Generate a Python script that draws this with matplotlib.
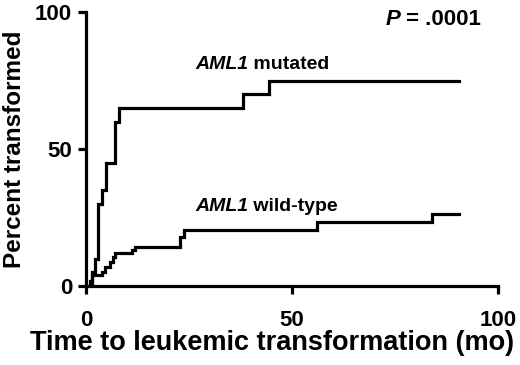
import matplotlib
matplotlib.use("Agg")
import matplotlib.pyplot as plt

plt.rcParams['font.family'] = ['Liberation Sans', 'DejaVu Sans']
plt.rcParams['font.weight'] = 'bold'

# AML1 mutated: event times (mo) and cumulative percent transformed
mut_t = [0, 1.5, 2.2, 3.0, 3.8, 4.9, 7.0, 8.1, 38.0, 44.4, 90.5]
mut_y = [0, 5, 10, 30, 35, 45, 60, 65, 70, 75, 75]

# AML1 wild-type
wt_t = [0, 1.0, 1.4, 3.8, 4.6, 5.8, 6.6, 7.1, 11.1, 11.9, 22.9, 23.7, 56.1, 84.1, 90.5]
wt_y = [0, 2, 4, 5.2, 7, 8.9, 10.7, 11.9, 13.1, 14.3, 18, 20.4, 23.5, 26.2, 26.2]

xticks = [0, 50, 100]
yticks = [0, 50, 100]

fig = plt.figure(figsize=(5.2, 3.65), dpi=100)
ax = fig.add_axes([0.1654, 0.2164, 0.7923, 0.7507])

ax.step(mut_t, mut_y, where='post', color='black', lw=2.3, solid_joinstyle='miter')
ax.step(wt_t, wt_y, where='post', color='black', lw=2.3, solid_joinstyle='miter')

ax.set_xlim(0, 100)
ax.set_ylim(0, 100)
ax.set_xticks(xticks)
ax.set_yticks(yticks)
for s in ['top', 'right']:
    ax.spines[s].set_visible(False)
for s in ['left', 'bottom']:
    ax.spines[s].set_linewidth(2.3)
ax.tick_params(direction='out', length=6, width=2.3, labelsize=16)
ax.tick_params(axis='x', pad=11)
ax.tick_params(axis='y', pad=4)
for lab in ax.get_xticklabels() + ax.get_yticklabels():
    lab.set_fontweight('bold')

ax.set_xlabel('Time to leukemic transformation (mo)', fontsize=19.5, fontweight='bold',
              va='baseline')
ax.xaxis.set_label_coords(0.451, -0.2336)
ax.set_ylabel('Percent transformed', fontsize=17.5, fontweight='bold')
ax.yaxis.set_label_coords(-0.145, 0.5)


def label(x, y, italic, rest, size):
    t1 = ax.text(x, y, italic, fontsize=size, fontweight='bold', fontstyle='italic',
                 ha='left', va='center')
    ax.annotate(rest, xy=(1, 0.5), xycoords=t1, fontsize=size, fontweight='bold',
                ha='left', va='center')


label(26.5, 81.0, 'AML1', ' mutated', 14)
label(26.5, 29.0, 'AML1', ' wild-type', 14)
label(72.6, 97.4, 'P', ' = .0001', 16)

fig.savefig('out.png', dpi=100)
